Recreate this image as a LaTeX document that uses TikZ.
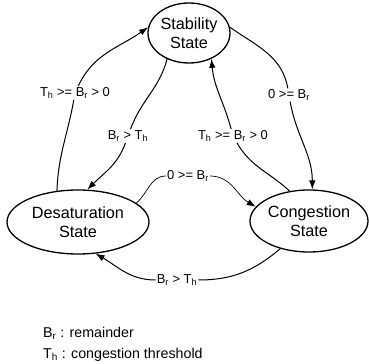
\documentclass[tikz,border=0pt]{standalone}
\usepackage{fontspec}
\setmainfont{Liberation Sans}
\usetikzlibrary{arrows.meta,shapes.geometric}
\newcommand{\Brr}{B\textsubscript{r}}
\newcommand{\Thh}{T\textsubscript{h}}
\begin{document}
\begin{tikzpicture}[x=1bp,y=1bp,
  statenode/.style={ellipse,draw,line width=1.3bp,inner sep=0pt,align=center,
    font=\fontsize{16.3}{19.5}\selectfont},
  condlabel/.style={inner sep=1bp,font=\fontsize{13}{15}\selectfont},
  legendtext/.style={anchor=west,inner sep=0pt,font=\fontsize{14.3}{16}\selectfont},
  edge/.style={line width=1bp,-{Latex[length=9bp,width=6.5bp]}},
  seg/.style={line width=1bp}]
\useasboundingbox (0,0) rectangle (369,364);
% states
\node[statenode,minimum width=82bp,minimum height=60bp] (stab) at (189,331) {Stability\\State};
\node[statenode,minimum width=142bp,minimum height=64bp] (des) at (78,142) {Desaturation\\State};
\node[statenode,minimum width=118bp,minimum height=62bp] (cong) at (309,143) {Congestion\\State};
% labels
\node[condlabel] (l1) at (75,271) {\Thh\ >= \Brr\ > 0};
\node[condlabel] (l2) at (128,228) {\Brr\ > \Thh};
\node[condlabel] (l3) at (289,269) {0 >= \Brr};
\node[condlabel] (l4) at (233,228) {\Thh\ >= \Brr\ > 0};
\node[condlabel] (l5) at (188,188) {0 >= \Brr};
\node[condlabel] (l6) at (177,84) {\Brr\ > \Thh};
% edges
\draw[seg] (des.124) to[out=88,in=-100] (l1);
\draw[edge] (l1) to[out=65,in=-145] (stab.172);
\draw[seg] (stab.230) to[out=-105,in=70] (l2);
\draw[edge] (l2) to[out=-110,in=45] (des.74);
\draw[seg] (stab.8) to[out=-35,in=100] (l3);
\draw[edge] (l3) to[out=-80,in=90] (cong.84);
\draw[seg] (cong.123) to[out=137,in=-60] (l4);
\draw[edge] (l4) to[out=105,in=-85] (stab.311);
\draw[seg,line width=0.7bp] (des.18) to[out=40,in=180] (l5);
\draw[edge,line width=0.7bp] (l5) to[out=0,in=150] (cong.165);
\draw[seg] (cong.224) to[out=-140,in=0] (l6);
\draw[edge] (l6) to[out=180,in=-30] (des.299);
% legend
\node[legendtext] (lg1) at (43,31) {\Brr\ : remainder};
\node[legendtext] (lg2) at (43,9) {\Thh\ : congestion threshold};
\end{tikzpicture}
\end{document}
